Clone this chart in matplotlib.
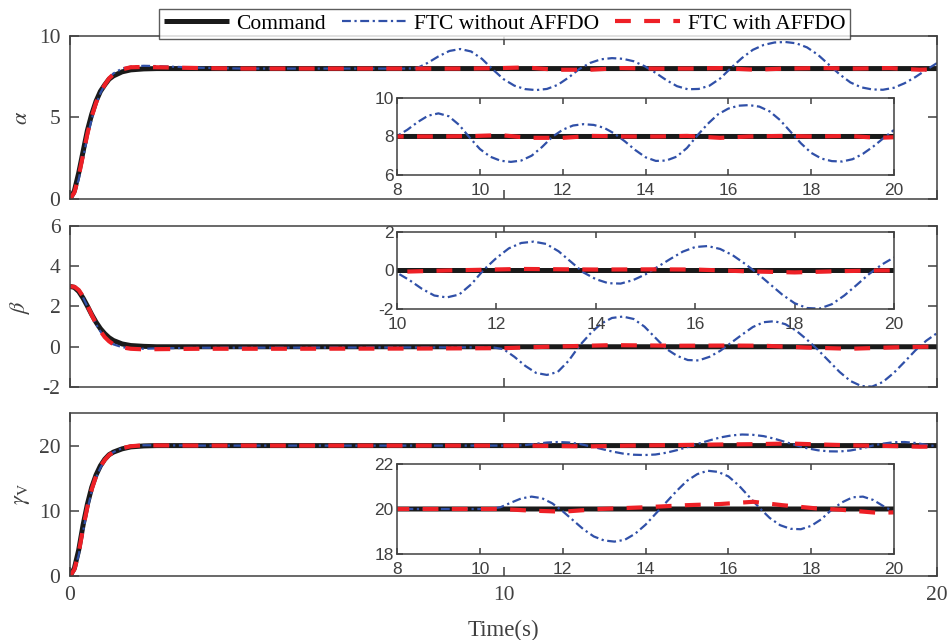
"""
Attitude tracking under faults: command vs FTC with / without AFFDO.
Three stacked panels (alpha, beta, gamma_V) each with a zoomed inset.
"""

import matplotlib.pyplot as plt

# ── Style ─────────────────────────────────────────────────────────────────────
CMD_COLOR = "#1a1a1a"
BLUE = "#3050a8"
RED = "#ee2026"
AX_GRAY = "#404040"

plt.rcParams.update(
    {
        "font.family": "Liberation Serif",
        "mathtext.fontset": "stix",
        "axes.unicode_minus": False,
        "axes.edgecolor": AX_GRAY,
        "axes.linewidth": 1.1,
        "xtick.color": AX_GRAY,
        "ytick.color": AX_GRAY,
        "xtick.direction": "in",
        "ytick.direction": "in",
    }
)

# ── Data ──────────────────────────────────────────────────────────────────────
# alpha
t_a_cmd = [0, 0.1, 0.2, 0.3, 0.4, 0.5, 0.6, 0.7, 0.8, 0.9, 1.0, 1.2, 1.4, 1.7, 2.0, 20]
a_cmd = [0, 0.5, 1.6, 2.9, 4.2, 5.2, 6.0, 6.6, 7.0, 7.35, 7.55, 7.8, 7.92, 7.98, 8.0, 8.0]

t_a_blue = [0, 0.1, 0.2, 0.3, 0.4, 0.5, 0.6, 0.7, 0.8, 0.9, 1.0, 1.2, 1.4, 1.7, 2.0,
            2.5, 3.0, 4.0, 7.5, 7.75, 8.0, 8.25, 8.5, 8.75, 9.0, 9.25, 9.5, 9.75,
            10.0, 10.25, 10.5, 10.75, 11.0, 11.25, 11.5, 11.75, 12.0, 12.25, 12.5,
            12.75, 13.0, 13.25, 13.5, 13.75, 14.0, 14.25, 14.5, 14.75, 15.0, 15.25,
            15.5, 15.75, 16.0, 16.25, 16.5, 16.75, 17.0, 17.25, 17.5, 17.75, 18.0,
            18.25, 18.5, 18.75, 19.0, 19.25, 19.5, 19.75, 20.0]
a_blue = [0, 0.3, 1.2, 2.5, 3.8, 4.9, 5.8, 6.5, 7.0, 7.4, 7.7, 8.0, 8.12, 8.17, 8.15,
          8.1, 8.05, 8.0, 8.0, 8.0, 8.02, 8.35, 8.75, 9.08, 9.2, 9.05, 8.6, 7.95,
          7.35, 6.95, 6.74, 6.68, 6.75, 7.0, 7.45, 7.98, 8.35, 8.57, 8.64,
          8.6, 8.45, 8.15, 7.75, 7.3, 6.92, 6.73, 6.75, 6.95, 7.4, 8.05,
          8.65, 9.15, 9.45, 9.6, 9.63, 9.55, 9.3, 8.85, 8.25, 7.65, 7.15,
          6.85, 6.72, 6.7, 6.82, 7.1, 7.48, 7.92, 8.34]

t_a_red = [0, 0.1, 0.2, 0.3, 0.4, 0.5, 0.6, 0.7, 0.8, 0.9, 1.0, 1.2, 1.4, 1.7, 2.0,
           3.0, 4.0, 9.0, 9.8, 10.5, 11.2, 12.0, 12.7, 13.5, 14.3, 15.0, 15.8,
           16.5, 17.3, 18.1, 18.9, 19.6, 20.0]
a_red = [0, 0.4, 1.4, 2.7, 4.0, 5.05, 5.9, 6.55, 7.0, 7.4, 7.65, 7.95, 8.08, 8.1, 8.08,
         8.03, 8.0, 8.0, 8.02, 8.07, 7.93, 7.93, 8.03, 8.0, 8.0, 8.03, 7.93,
         8.0, 8.03, 8.0, 8.03, 7.93, 7.96]

# beta
t_b_cmd = [0, 0.1, 0.2, 0.3, 0.4, 0.5, 0.6, 0.7, 0.8, 0.9, 1.0, 1.2, 1.4, 1.7, 2.0, 20]
b_cmd = [3.0, 2.95, 2.75, 2.42, 2.02, 1.6, 1.22, 0.9, 0.65, 0.45, 0.31, 0.14, 0.06,
         0.02, 0.0, 0.0]

t_b_blue = [0, 0.1, 0.2, 0.3, 0.4, 0.5, 0.6, 0.7, 0.8, 0.9, 1.0, 1.2, 1.4, 1.7, 2.0,
            3.0, 9.5, 9.75, 10.0, 10.25, 10.5, 10.75, 11.0, 11.25, 11.5, 11.75,
            12.0, 12.25, 12.5, 12.75, 13.0, 13.25, 13.5, 13.75, 14.0, 14.25, 14.5,
            14.75, 15.0, 15.25, 15.5, 15.75, 16.0, 16.25, 16.5, 16.75, 17.0, 17.25,
            17.5, 17.75, 18.0, 18.25, 18.5, 18.75, 19.0, 19.25, 19.5, 19.75, 20.0]
b_blue = [3.0, 2.97, 2.8, 2.45, 2.0, 1.55, 1.12, 0.76, 0.47, 0.26, 0.12, -0.02, -0.08,
          -0.1, -0.08, -0.05, -0.03, -0.03, -0.12, -0.5, -0.95, -1.3, -1.4, -1.25,
          -0.7, 0.05, 0.65, 1.15, 1.43, 1.5, 1.38, 1.0, 0.45, -0.1, -0.45, -0.66,
          -0.68, -0.5, -0.2, 0.2, 0.6, 0.98, 1.22, 1.27, 1.12, 0.8, 0.35, -0.15,
          -0.7, -1.25, -1.7, -1.95, -1.98, -1.75, -1.3, -0.75, -0.18, 0.3, 0.68]

t_b_red = [0, 0.1, 0.2, 0.3, 0.4, 0.5, 0.6, 0.7, 0.8, 0.9, 1.0, 1.2, 1.4, 1.7, 2.0,
           3.0, 5.0, 8.0, 10.0, 11.0, 12.5, 14.0, 15.2, 16.0, 17.0, 18.0, 19.0,
           19.7, 20.0]
b_red = [3.0, 2.98, 2.82, 2.5, 2.05, 1.58, 1.15, 0.78, 0.48, 0.27, 0.12, -0.03, -0.1,
         -0.13, -0.12, -0.1, -0.1, -0.09, -0.07, 0.0, 0.08, 0.05, 0.06, 0.05, -0.04,
         -0.1, -0.03, 0.0, 0.0]

# gamma_V
t_g_cmd = [0, 0.1, 0.2, 0.3, 0.4, 0.5, 0.6, 0.7, 0.8, 0.9, 1.0, 1.2, 1.4, 1.7, 2.0, 20]
g_cmd = [0, 1.2, 4.0, 7.8, 11.0, 13.6, 15.5, 16.9, 17.9, 18.6, 19.0, 19.5, 19.8,
         19.95, 20.0, 20.0]

t_g_blue = [0, 0.1, 0.2, 0.3, 0.4, 0.5, 0.6, 0.7, 0.8, 0.9, 1.0, 1.2, 1.4, 1.7, 2.0,
            3.0, 10.0, 10.25, 10.5, 10.75, 11.0, 11.25, 11.5, 11.75, 12.0, 12.25,
            12.5, 12.75, 13.0, 13.25, 13.5, 13.75, 14.0, 14.25, 14.5, 14.75, 15.0,
            15.25, 15.5, 15.75, 16.0, 16.25, 16.5, 16.75, 17.0, 17.25, 17.5, 17.75,
            18.0, 18.25, 18.5, 18.75, 19.0, 19.25, 19.5, 19.75, 20.0]
g_blue = [0, 0.8, 3.2, 6.8, 10.2, 13.0, 15.1, 16.6, 17.7, 18.5, 19.0, 19.6, 19.9,
          20.05, 20.05, 20.0, 20.0, 20.0, 20.08, 20.28, 20.47, 20.55, 20.48, 20.25,
          19.9, 19.5, 19.1, 18.78, 18.6, 18.55, 18.63, 18.9, 19.3, 19.8, 20.3,
          20.8, 21.25, 21.55, 21.7, 21.65, 21.45, 21.05, 20.55, 20.05, 19.6, 19.28,
          19.12, 19.1, 19.25, 19.55, 19.98, 20.3, 20.52, 20.55, 20.4, 20.12, 19.88]

t_g_red = [0, 0.1, 0.2, 0.3, 0.4, 0.5, 0.6, 0.7, 0.8, 0.9, 1.0, 1.2, 1.4, 1.7, 2.0,
           3.0, 10.5, 11.2, 12.0, 12.9, 13.9, 15.0, 15.8, 16.6, 17.3, 18.1, 18.7,
           19.6, 20.0]
g_red = [0, 1.0, 3.6, 7.3, 10.6, 13.3, 15.3, 16.8, 17.8, 18.55, 19.0, 19.6, 19.9,
         20.05, 20.03, 20.0, 20.0, 19.93, 19.88, 20.0, 20.07, 20.17, 20.22, 20.32,
         20.17, 20.03, 19.97, 19.83, 19.85]

LEGEND_LABELS = ["Command", "FTC without AFFDO", "FTC with AFFDO"]
MAIN_YLABELS = [r"$\alpha$", r"$\beta$", r"$\gamma_{\mathrm{V}}$"]
MAIN_YLIMS = [(0, 10), (-2, 6), (0, 25)]
MAIN_YTICKS = [[0, 5, 10], [-2, 0, 2, 4, 6], [0, 10, 20]]
INSET_XLIMS = [(8, 20), (10, 20), (8, 20)]
INSET_YLIMS = [(6, 10), (-2, 2), (18, 22)]
INSET_YTICKS = [[6, 8, 10], [-2, 0, 2], [18, 20, 22]]

series = [
    (t_a_cmd, a_cmd, t_a_blue, a_blue, t_a_red, a_red),
    (t_b_cmd, b_cmd, t_b_blue, b_blue, t_b_red, b_red),
    (t_g_cmd, g_cmd, t_g_blue, g_blue, t_g_red, g_red),
]

# ── Layout (figure fractions) ────────────────────────────────────────────────
MAIN_RECTS = [
    [0.0735, 0.6891, 0.9098, 0.2547],
    [0.0735, 0.3953, 0.9098, 0.2516],
    [0.0735, 0.1000, 0.9098, 0.2547],
]
INSET_RECTS = [
    [0.4166, 0.7266, 0.5215, 0.1203],
    [0.4166, 0.5172, 0.5215, 0.1203],
    [0.4166, 0.1344, 0.5215, 0.1406],
]


def draw_lines(ax, data):
    tc, yc, tb, yb, tr, yr = data
    ax.plot(tc, yc, color=CMD_COLOR, lw=3.6, solid_capstyle="butt")
    ax.plot(tb, yb, color=BLUE, lw=1.6, linestyle=(0, (4, 1.6, 1, 1.6)))
    ax.plot(tr, yr, color=RED, lw=3.0, linestyle=(0, (3.8, 3.2)))


fig = plt.figure(figsize=(9.53, 6.4), dpi=100)

handles = None
for i, data in enumerate(series):
    ax = fig.add_axes(MAIN_RECTS[i])
    draw_lines(ax, data)
    if handles is None:
        handles = ax.get_lines()
    ax.set_xlim(0, 20)
    ax.set_ylim(*MAIN_YLIMS[i])
    ax.set_xticks([0, 10, 20])
    ax.set_yticks(MAIN_YTICKS[i])
    ax.tick_params(top=True, right=True, length=6.5, width=1.1, labelsize=15.5,
                   labelcolor=AX_GRAY, pad=7)
    ax.tick_params(axis="x", pad=7)
    if i < 2:
        ax.tick_params(labelbottom=False)
    ax.set_ylabel(MAIN_YLABELS[i], fontsize=16, color=AX_GRAY)
    ax.yaxis.set_label_coords(-0.044, 0.5)

    # zoomed inset
    ins = fig.add_axes(INSET_RECTS[i])
    draw_lines(ins, data)
    ins.set_xlim(*INSET_XLIMS[i])
    ins.set_ylim(*INSET_YLIMS[i])
    ins.set_xticks(range(INSET_XLIMS[i][0], 21, 2))
    ins.set_yticks(INSET_YTICKS[i])
    ins.tick_params(top=True, right=True, length=4, width=1.1, labelsize=12.5,
                    labelcolor=AX_GRAY, pad=2.5)
    ins.tick_params(axis="x", pad=5.5)
    for lab in ins.get_xticklabels() + ins.get_yticklabels():
        lab.set_family("Liberation Sans")

ax.set_xlabel("Time(s)", fontsize=16.5, color=AX_GRAY, labelpad=11)

leg = fig.legend(
    handles, LEGEND_LABELS, loc="center", bbox_to_anchor=(0.5295, 0.9625), ncol=3,
    fontsize=15.5, frameon=True, fancybox=False, handlelength=3.0,
    handletextpad=0.35, columnspacing=0.75, borderpad=0.25, borderaxespad=0,
)
leg.get_frame().set_edgecolor("#333333")
leg.get_frame().set_linewidth(1.0)

fig.savefig("out.png", dpi=100)
